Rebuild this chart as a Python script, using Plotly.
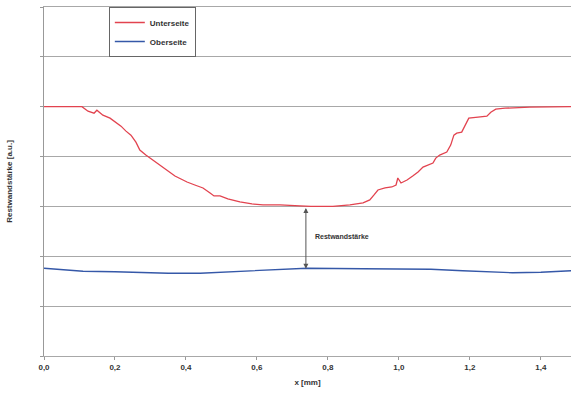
import plotly.graph_objects as go

# Lower surface profile (Unterseite)
unter_x = [0.0, 0.107, 0.124, 0.141, 0.149, 0.166, 0.186, 0.203, 0.217, 0.231, 0.245, 0.259,
           0.270, 0.287, 0.307, 0.327, 0.346, 0.369, 0.386, 0.403, 0.425, 0.448, 0.468, 0.479,
           0.496, 0.518, 0.552, 0.586, 0.617, 0.665, 0.721, 0.752, 0.814, 0.862, 0.899, 0.918,
           0.930, 0.941, 0.961, 0.980, 0.992, 0.997, 1.006, 1.023, 1.039, 1.054, 1.068, 1.082,
           1.096, 1.104, 1.115, 1.135, 1.146, 1.155, 1.163, 1.177, 1.186, 1.197, 1.223, 1.248,
           1.259, 1.273, 1.299, 1.369, 1.485]
unter_y = [5.00, 5.00, 4.91, 4.87, 4.93, 4.83, 4.77, 4.69, 4.61, 4.51, 4.43, 4.29,
           4.13, 4.03, 3.93, 3.83, 3.73, 3.61, 3.55, 3.49, 3.43, 3.37, 3.27, 3.21,
           3.21, 3.15, 3.09, 3.05, 3.03, 3.03, 3.01, 3.00, 3.00, 3.03, 3.07, 3.13,
           3.23, 3.33, 3.37, 3.39, 3.43, 3.57, 3.47, 3.53, 3.61, 3.69, 3.79, 3.83,
           3.87, 3.97, 4.03, 4.09, 4.23, 4.43, 4.47, 4.49, 4.63, 4.77, 4.79, 4.81,
           4.89, 4.95, 4.97, 4.99, 5.00]

# Upper surface profile (Oberseite)
ober_x = [0.0, 0.11, 0.20, 0.35, 0.44, 0.53, 0.72, 0.74, 0.90, 1.09, 1.18, 1.32, 1.40, 1.46, 1.485]
ober_y = [1.76, 1.70, 1.69, 1.66, 1.66, 1.69, 1.74, 1.76, 1.75, 1.74, 1.71, 1.67, 1.68, 1.70, 1.71]

# Residual wall thickness marker position
arrow_x = 0.738
arrow_top = 3.0
arrow_bottom = 1.75

x_tickvals = [0.0, 0.2, 0.4, 0.6, 0.8, 1.0, 1.2, 1.4]
x_ticktext = ["0,0", "0,2", "0,4", "0,6", "0,8", "1,0", "1,2", "1,4"]

FONT = "Liberation Sans, Arial, sans-serif"

fig = go.Figure()
fig.add_trace(go.Scatter(x=unter_x, y=unter_y, mode="lines", name="<b>Unterseite</b>",
                         line=dict(color="#e2434f", width=1.3)))
fig.add_trace(go.Scatter(x=ober_x, y=ober_y, mode="lines", name="<b>Oberseite</b>",
                         line=dict(color="#3558a8", width=1.3)))

fig.add_annotation(x=arrow_x, y=arrow_bottom, ax=arrow_x, ay=arrow_top,
                   xref="x", yref="y", axref="x", ayref="y",
                   showarrow=True, arrowhead=2, arrowsize=1, arrowwidth=1,
                   arrowside="end+start", arrowcolor="#555555", text="")
fig.add_annotation(x=arrow_x + 0.02, y=(arrow_top + arrow_bottom) / 2 + 0.02,
                   xref="x", yref="y", text="<b>Restwandstärke</b>", showarrow=False,
                   xanchor="left", font=dict(family=FONT, size=7, color="#333333"))

fig.update_layout(
    width=571, height=400,
    margin=dict(l=44, r=0, t=7, b=44),
    paper_bgcolor="white", plot_bgcolor="white",
    font=dict(family=FONT, color="#333333"),
    showlegend=True,
    legend=dict(x=0.123, y=1.0, xanchor="left", yanchor="top",
                bgcolor="white", bordercolor="#666666", borderwidth=1,
                font=dict(family=FONT, size=8, color="#333333"),
                itemwidth=30, tracegroupgap=0),
    xaxis=dict(range=[0, 1.485], tickvals=x_tickvals,
               ticktext=["<b>%s</b>" % t for t in x_ticktext],
               showgrid=False, zeroline=False, showline=True, mirror=True,
               linecolor="#a8a8a8",
               ticks="outside", ticklen=3, tickcolor="#999999",
               tickfont=dict(family=FONT, size=8, color="#333333"),
               title=dict(text="<b>x [mm]</b>", font=dict(family=FONT, size=8), standoff=8)),
    yaxis=dict(range=[0, 7], tickmode="linear", tick0=0, dtick=1, showticklabels=False,
               showgrid=True, gridcolor="#a8a8a8", gridwidth=1, zeroline=False,
               showline=True, linecolor="#999999",
               ticks="outside", ticklen=3, tickcolor="#999999",
               title=dict(text="<b>Restwandstärke [a.u.]</b>", font=dict(family=FONT, size=8),
                          standoff=26)),
)

fig.write_html("out.html")
